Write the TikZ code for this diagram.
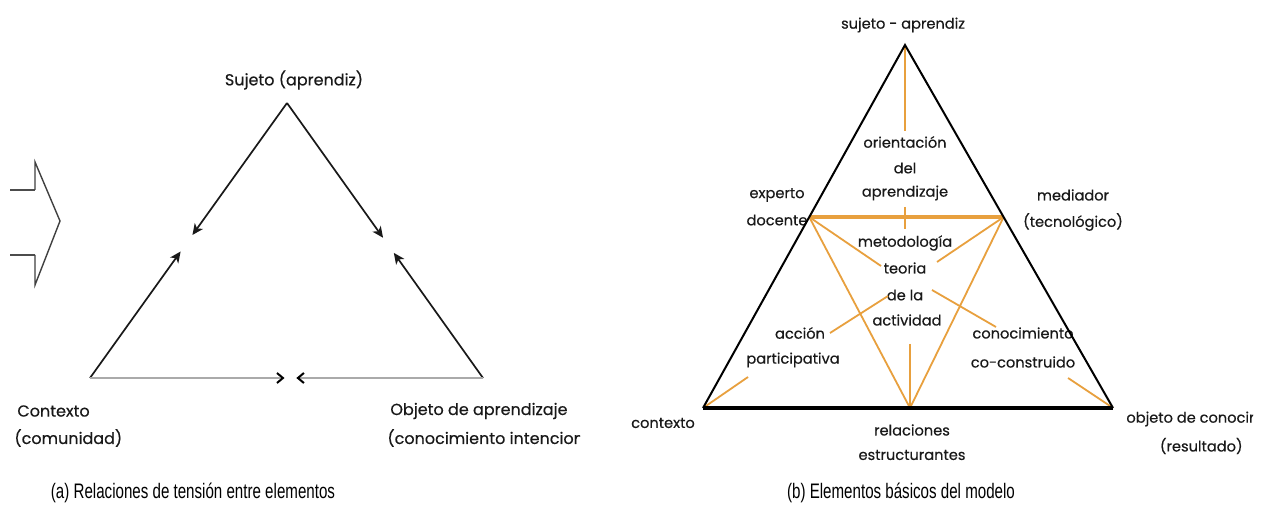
\documentclass[tikz,border=0pt]{standalone}
\usepackage{fontspec}
\setmainfont{Poppins}[FakeBold=0.4]
\newfontfamily\capfont[FakeStretch=0.72]{Liberation Sans}
\usetikzlibrary{arrows.meta,calc}
\definecolor{orng}{RGB}{232,160,62}
\definecolor{lgray}{RGB}{170,170,170}
\tikzset{
  lbl/.style={inner sep=0pt, font=\fontsize{7.3}{8.5}\selectfont, text=black!90},
  lblL/.style={inner sep=0pt, font=\fontsize{8}{9}\selectfont, text=black!90},
  captxt/.style={inner sep=0pt, font=\capfont\fontsize{10.5}{12}\selectfont},
  side/.style={draw=black!90, line width=0.85pt},
  tipst/.style={-{Stealth[length=5.5pt,width=5pt,inset=1.5pt]}},
  ol/.style={draw=orng, line width=0.9pt},
}
\begin{document}
\begin{tikzpicture}[x=0.5pt,y=-0.5pt]
\useasboundingbox (0,0) rectangle (1273,523);
\fill[white] (0,0) rectangle (1273,523);
% ---------- left panel ----------
\draw[gray!60!black, line width=1.2pt] (10,190) -- (35,190);
\draw[gray!60!black, line width=1.2pt] (10,255) -- (35,255);
\draw[black!75, line width=0.7pt, line join=miter]
  (35,190) -- (35,162) -- (60,221) -- (35,285) -- (35,255);
\coordinate (A) at (287,103);
\coordinate (B) at (90,378);
\coordinate (C) at (483,378);
\coordinate (ab1) at ($(A)!0.48!(B)$);
\coordinate (ab2) at ($(A)!0.54!(B)$);
\coordinate (ac1) at ($(A)!0.49!(C)$);
\coordinate (ac2) at ($(A)!0.545!(C)$);
\coordinate (bc1) at ($(B)!0.495!(C)$);
\coordinate (bc2) at ($(B)!0.525!(C)$);
\draw[side,tipst] (A) -- (ab1);
\draw[side,tipst] (B) -- (ab2);
\draw[side,tipst] (A) -- (ac1);
\draw[side,tipst] (C) -- (ac2);
\draw[lgray, line width=1pt, -{Straight Barb[length=3pt,width=5pt,line width=1pt,black]}] (B) -- (bc1);
\draw[lgray, line width=1pt, -{Straight Barb[length=3pt,width=5pt,line width=1pt,black]}] (C) -- (bc2);
\node[lblL] (suj) at (294,80) {Sujeto (aprendiz)};
\node[lblL, anchor=west] (ctx) at (17,411) {Contexto};
\node[lblL, anchor=west] (com) at (14,438) {(comunidad)};
\begin{scope}
\clip (380,395) rectangle (580,452);
\node[lblL, anchor=west] (obj) at (390,411) {Objeto de aprendizaje};
\node[lblL, anchor=west] (coi) at (387,438) {(conocimiento intencional)};
\end{scope}
\node[captxt] (capa) at (193,493) {(a) Relaciones de tensión entre elementos};
% ---------- right panel ----------
\coordinate (T) at (905,45);
\coordinate (L) at (703,408);
\coordinate (Rr) at (1113,408);
\coordinate (E) at ($(T)!0.474!(L)$);
\coordinate (M) at ($(T)!0.474!(Rr)$);
\coordinate (R) at (910,408);
\node[lbl] (sa) at (903,25) {sujeto - aprendiz};
\node[lbl] (ori) at (905,142) {orientación};
\node[lbl] (del) at (905,168) {del};
\node[lbl] (apr) at (905,193) {aprendizaje};
\node[lbl] (met) at (905,243) {metodología};
\node[lbl] (teo) at (905,268) {teoria};
\node[lbl] (dla) at (905,295) {de la};
\node[lbl] (act) at (907,320) {actividad};
\node[lbl] (exp) at (777,195) {experto};
\node[lbl] (doc) at (777,220) {docente};
\node[lbl] (med) at (1073,195) {mediador};
\node[lbl] (tec) at (1073,222) {(tecnológico)};
\node[lbl] (acc) at (800,333) {acción};
\node[lbl] (par) at (793,360) {participativa};
\node[lbl] (con) at (1023,333) {conocimiento};
\node[lbl] (coc) at (1023,362) {co-construido};
\node[lbl] (ctx2) at (663,423) {contexto};
\node[lbl] (rel) at (912,430) {relaciones};
\node[lbl] (est) at (912,455) {estructurantes};
\begin{scope}
\clip (1120,405) rectangle (1253,435);
\node[lbl, anchor=west] (obc) at (1126,419) {objeto de conocimiento};
\end{scope}
\node[lbl, anchor=east] (res) at (1243,446) {(resultado)};
\node[captxt] (capb) at (901,493) {(b) Elementos básicos del modelo};
% orange structure
\coordinate (ori0) at (905,131);
\coordinate (tk1) at (905,207);
\coordinate (tk2) at (905,229);
\coordinate (teoL) at (881,266);
\coordinate (teoR) at (937,262);
\coordinate (dlaL) at (888,296);
\coordinate (accR) at (830,333);
\coordinate (dlaR) at (932,290);
\coordinate (conN) at (996,327);
\coordinate (actS) at (910,344);
\coordinate (parW) at (748,377);
\coordinate (cocE) at (1068,378);
\draw[ol] (T) -- (ori0);
\draw[ol, line width=1.6pt] (E) -- (M);
\draw[ol] (tk1) -- (tk2);
\draw[ol] (E) -- (R);
\draw[ol] (M) -- (R);
\draw[ol] (E) -- (teoL);
\draw[ol] (M) -- (teoR);
\draw[ol] (dlaL) -- (accR);
\draw[ol] (dlaR) -- (conN);
\draw[ol] (actS) -- (R);
\draw[ol] (L) -- (parW);
\draw[ol] (Rr) -- (cocE);
% black triangle
\draw[black, line width=1pt, line join=miter] (L) -- (T) -- (Rr);
\draw[black, line width=1.8pt] (L) -- (Rr);
\end{tikzpicture}
\end{document}
